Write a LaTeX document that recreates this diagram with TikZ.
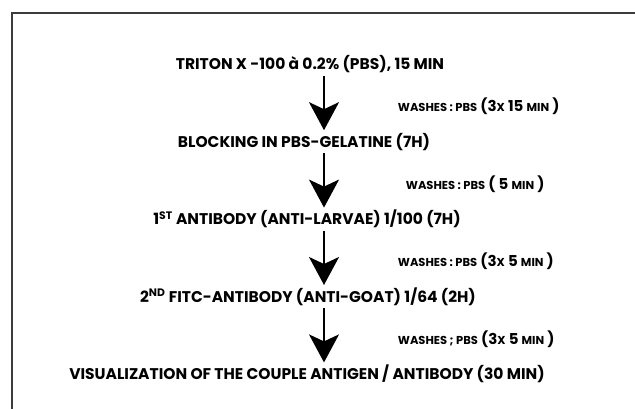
\documentclass[tikz,border=0pt]{standalone}
\usepackage{fontspec}
\setmainfont{Poppins}
\usetikzlibrary{arrows.meta, positioning}
\usepackage{xcolor}
\definecolor{framegray}{RGB}{60,60,60}
\newcommand{\lo}[1]{{\fontsize{11.5}{13}\selectfont #1}}

\begin{document}
\begin{tikzpicture}[
    x=1pt, y=1pt,
    stage/.style={
        font=\bfseries\fontsize{15.5}{18}\selectfont,
        inner sep=2pt,
        text height=11.5pt,
        text depth=3.5pt,
        align=center
    },
    wash/.style={
        font=\bfseries\fontsize{15}{17}\selectfont,
        inner sep=0pt,
        anchor=west,
        yshift=-2pt
    },
    line/.style={draw, line width=1.8pt, -{Stealth[length=28pt, width=30pt, inset=7pt]}, shorten >=3.5pt}
]
    \useasboundingbox (0,0) rectangle (635,-409);

    % Rahmen
    \draw[framegray, line width=1.5pt] (12,-409) |- (635,-13);

    % Etappen
    \coordinate (axis) at (324,0);
    \node[stage] (triton) at (310,-66) {TRITON X -100 à 0.2\% (PBS), 15 MIN};
    \node[stage, below=58pt of triton, xshift=-6pt] (blocking) {BLOCKING IN PBS-GELATINE (7H)};
    \node[stage, below=58pt of blocking, xshift=3pt] (first) {1\textsuperscript{ST} ANTIBODY (ANTI-LARVAE) 1/100 (7H)};
    \node[stage, below=58pt of first, xshift=1pt] (second) {2\textsuperscript{ND} FITC-ANTIBODY (ANTI-GOAT) 1/64 (2H)};
    \node[stage, below=58pt of second, xshift=-1pt] (visual) {VISUALIZATION OF THE COUPLE ANTIGEN / ANTIBODY (30 MIN)};

    % Waschschritte
    \path[line] (triton.south -| axis) -- node[wash, xshift=73pt] (wash1) {\lo{WASHES : PBS} (3\lo{X} 15 \lo{MIN} )} (blocking.north -| axis);
    \path[line] (blocking.south -| axis) -- node[wash, xshift=81pt] (wash2) {\lo{WASHES : PBS} ( 5 \lo{MIN} )} (first.north -| axis);
    \path[line] (first.south -| axis) -- node[wash, xshift=73pt] (wash3) {\lo{WASHES : PBS} (3\lo{X} 5 \lo{MIN} )} (second.north -| axis);
    \path[line] (second.south -| axis) -- node[wash, xshift=73pt] (wash4) {\lo{WASHES ; PBS} (3\lo{X} 5 \lo{MIN} )} (visual.north -| axis);

\end{tikzpicture}
\end{document}
